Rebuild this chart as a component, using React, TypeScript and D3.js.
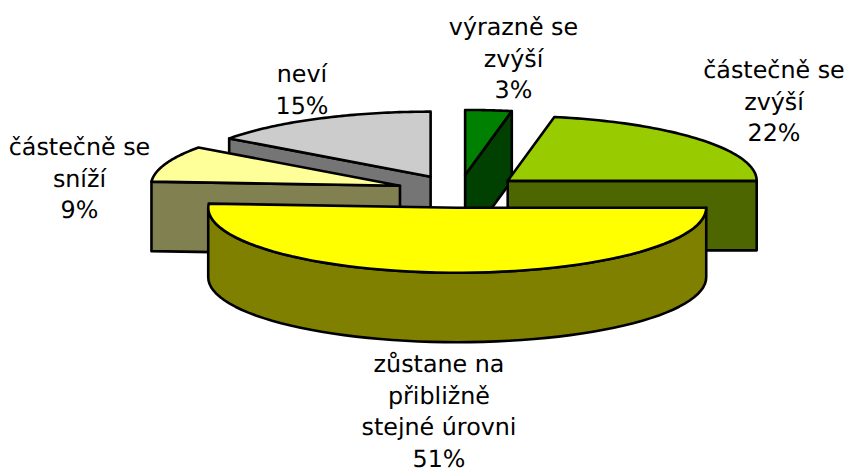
import React from "react";
import * as d3 from "d3";

const sliceNames = ["výrazně se zvýší", "částečně se zvýší", "zůstane na přibližně stejné úrovni", "částečně se sníží", "neví"];
const sliceValues = [3, 22, 51, 9, 15];
const topColors = ["#008000", "#99cc00", "#ffff00", "#ffff99", "#cccccc"];
const sideColors = ["#004000", "#4d6600", "#808000", "#808050", "#757575"];
const labelLines = [
  ["výrazně se", "zvýší", "3%"],
  ["částečně se", "zvýší", "22%"],
  ["zůstane na", "přibližně", "stejné úrovni", "51%"],
  ["částečně se", "sníží", "9%"],
  ["neví", "15%"],
];
const labelX = [513.5, 774, 439, 79.5, 302];
const labelY = [35, 78, 372, 155, 82];

const W = 846, H = 468;
const cx = 459.2, cy = 191.3, rx = 249, ry = 65, depth = 69.5, explode = 0.2528;
const lineH = 31.6;

const pie = d3.pie<number>().sort(null).value((d) => d);
const arcs = pie(sliceValues);
const xs = d3.scaleLinear().domain([-1, 1]).range([-rx, rx]);
const ys = d3.scaleLinear().domain([-1, 1]).range([ry, -ry]);
const line = d3.line();

type P = [number, number];

function geom(i: number) {
  const a = arcs[i];
  const mid = (a.startAngle + a.endAngle) / 2;
  const ax = cx + explode * xs(Math.sin(mid));
  const ay = cy + explode * ys(Math.cos(mid));
  const pt = (t: number, dz = 0): P => [ax + xs(Math.sin(t)), ay + ys(Math.cos(t)) + dz];
  const rim = (t0: number, t1: number, dz = 0): P[] =>
    d3.range(0, 61).map((k) => pt(t0 + ((t1 - t0) * k) / 60, dz));
  return { a, ax, ay, pt, rim };
}

const close = (p: P[]) => (line(p) as string) + "Z";

function App() {
  const g = arcs.map((_, i) => geom(i));
  const S = { stroke: "#000", strokeWidth: 2.6, strokeLinejoin: "round" as const };

  const cutFace = (i: number, angle: number) => {
    const s = g[i];
    return close([[s.ax, s.ay], s.pt(angle), s.pt(angle, depth), [s.ax, s.ay + depth]]);
  };
  const top = (i: number) => {
    const s = g[i];
    return close([[s.ax, s.ay], ...s.rim(s.a.startAngle, s.a.endAngle)]);
  };

  const s3 = g[2];
  const frontRim = close([
    ...s3.rim(s3.a.startAngle, Math.PI),
    ...s3.rim(Math.PI, Math.PI * 1.5),
    ...s3.rim(Math.PI * 1.5, s3.a.startAngle, depth),
  ]);

  return (
    <svg width={W} height={H} style={{ position: "absolute", left: 0, top: 0, background: "#fff" }}>
      <g {...S}>
        {/* neví */}
        <path d={cutFace(4, arcs[4].startAngle)} fill={sideColors[4]} />
        <path d={top(4)} fill={topColors[4]} />
        {/* částečně se sníží */}
        <path d={cutFace(3, arcs[3].startAngle)} fill={sideColors[3]} />
        <path d={top(3)} fill={topColors[3]} />
        {/* výrazně se zvýší */}
        <path d={cutFace(0, arcs[0].endAngle)} fill={sideColors[0]} />
        <path d={top(0)} fill={topColors[0]} />
        {/* částečně se zvýší */}
        <path d={cutFace(1, arcs[1].endAngle)} fill={sideColors[1]} />
        <path d={top(1)} fill={topColors[1]} />
        {/* zůstane na přibližně stejné úrovni */}
        <path d={frontRim} fill={sideColors[2]} />
        <path d={top(2)} fill={topColors[2]} />
      </g>
      <g fontFamily="'DejaVu Sans', sans-serif" fontSize={23.8} fill="#000" textAnchor="middle" textRendering="geometricPrecision">
        {labelLines.map((lines, i) => (
          <text key={sliceNames[i]} x={labelX[i]} y={labelY[i]}>
            {lines.map((t, j) => (
              <tspan key={j} x={labelX[i]} y={labelY[i] + j * lineH}>
                {t}
              </tspan>
            ))}
          </text>
        ))}
      </g>
    </svg>
  );
}

export default App;
